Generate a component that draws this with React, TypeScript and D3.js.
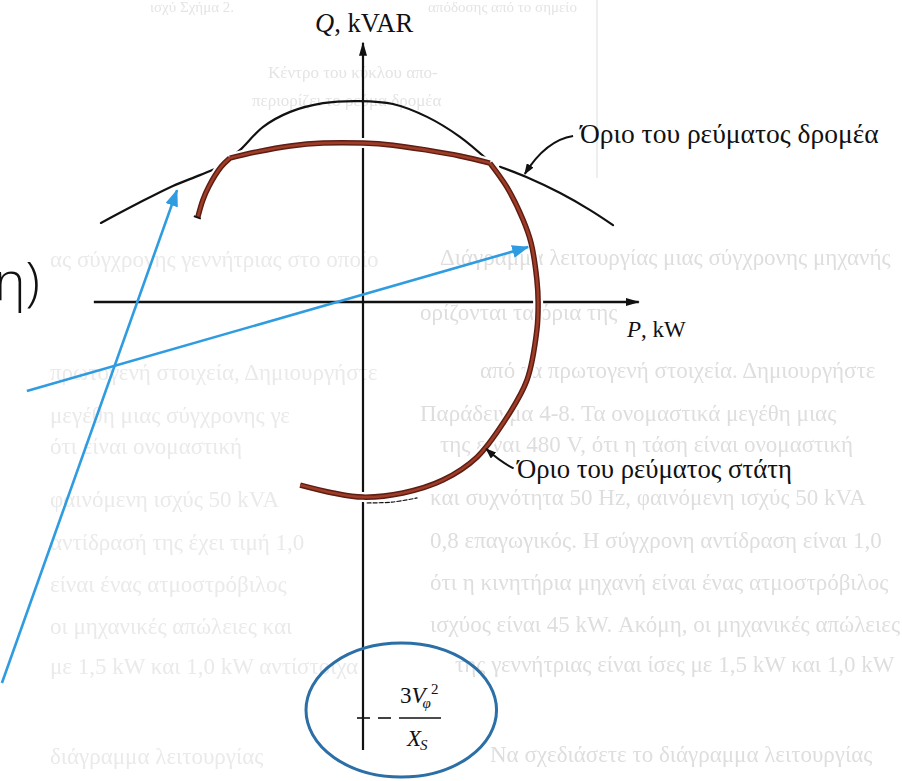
import React from "react";
import * as d3 from "d3";

type Pt = [number, number];

// Operating chart of a synchronous generator in per-unit P/Q coordinates.
// Q = -1 is the point -3Vφ²/Xs (centre of the rotor-current circle).
const rotorArcLeft: Pt[] = [
  [-0.63, 0.19], [-0.543, 0.236], [-0.457, 0.279], [-0.392, 0.305], [-0.337, 0.329], [-0.32, 0.344],
];
const rotorArcRight: Pt[] = [
  [0.329, 0.325], [0.394, 0.3], [0.474, 0.262], [0.546, 0.221], [0.601, 0.185],
];
const statorArcTop: Pt[] = [
  [-0.32, 0.346], [-0.296, 0.365], [-0.24, 0.421], [-0.175, 0.457], [-0.096, 0.478],
  [-0.007, 0.483], [0.072, 0.476], [0.154, 0.445], [0.233, 0.397], [0.3, 0.341],
];
const statorArcBottom: Pt[] = [[0.01, -0.483], [0.07, -0.481], [0.13, -0.471]];

// Capability boundary (highlighted)
const limitLeft: Pt[] = [
  [-0.397, 0.204], [-0.385, 0.245], [-0.37, 0.279], [-0.341, 0.325], [-0.32, 0.346],
];
const limitTop: Pt[] = [
  [-0.32, 0.346], [-0.255, 0.361], [-0.175, 0.375], [-0.096, 0.382], [0, 0.382],
  [0.072, 0.377], [0.154, 0.365], [0.233, 0.351], [0.305, 0.334],
];
const limitRight: Pt[] = [
  [0.305, 0.334], [0.346, 0.276], [0.385, 0.197], [0.404, 0.142], [0.418, 0.053],
  [0.421, 0], [0.418, -0.067], [0.394, -0.188], [0.337, -0.291], [0.274, -0.373],
  [0.192, -0.428], [0.096, -0.459], [0, -0.469], [-0.072, -0.459], [-0.151, -0.44],
];

const pAxisExtent: Pt = [-0.647, 0.663];
const qAxisExtent: Pt = [-1.077, 0.623];
const qTickValue = -1;

// Annotations
const annotationArrows: Pt[][] = [
  [[-0.868, -0.916], [-0.447, 0.269]],
  [[-0.808, -0.214], [0.397, 0.132]],
];
const ellipseCentre: Pt = [0.092, -0.981];
const ellipseRadii: Pt = [0.229, 0.161];
const rotorCallout: Pt[] = [[0.505, 0.399], [0.44, 0.389], [0.389, 0.308]];
const statorCallout: Pt[] = [[0.362, -0.4], [0.331, -0.385], [0.296, -0.353]];

// Faint page text printed behind the figure
const pageLines = [
  "Διάγραμμα λειτουργίας μιας σύγχρονης μηχανής",
  "ορίζονται τα όρια της",
  "από τα πρωτογενή στοιχεία. Δημιουργήστε",
  "Παράδειγμα 4-8. Τα ονομαστικά μεγέθη μιας",
  "της είναι 480 V, ότι η τάση είναι ονομαστική",
  "και συχνότητα 50 Hz, φαινόμενη ισχύς 50 kVA",
  "0,8 επαγωγικός. Η σύγχρονη αντίδραση είναι 1,0",
  "ότι η κινητήρια μηχανή είναι ένας ατμοστρόβιλος",
  "ισχύος είναι 45 kW. Ακόμη, οι μηχανικές απώλειες",
  "της γεννήτριας είναι ίσες με 1,5 kW και 1,0 kW",
  "Να σχεδιάσετε το διάγραμμα λειτουργίας",
];
const pageLineY = [265, 320, 378, 421, 452, 505, 548, 590, 632, 672, 762];
const pageLineX = [440, 420, 480, 420, 440, 430, 430, 430, 430, 455, 490];
const ghostLines = [
  "ας σύγχρονης γεννήτριας στο οποίο",
  "",
  "πρωτογενή στοιχεία, Δημιουργήστε",
  "μεγέθη μιας σύγχρονης γε",
  "ότι είναι ονομαστική",
  "φαινόμενη ισχύς 50 kVA",
  "αντίδρασή της έχει τιμή 1,0",
  "είναι ένας ατμοστρόβιλος",
  "οι μηχανικές απώλειες και",
  "με 1,5 kW και 1,0 kW αντίστοιχα",
  "διάγραμμα λειτουργίας",
];

const W = 902;
const H = 781;
const BLUE = "#2f9be0";
const ELLIPSE_BLUE = "#2b6fa6";
const RED_DARK = "#5c1d13";
const RED = "#9e3c28";
const SERIF = "'Liberation Serif', 'Times New Roman', 'DejaVu Serif', serif";

export default function App() {
  const x = d3.scaleLinear().domain([-1, 1]).range([363 - 416, 363 + 416]);
  const y = d3.scaleLinear().domain([-1, 1]).range([302 + 416, 302 - 416]);

  const smooth = d3
    .line<Pt>()
    .x((d) => x(d[0]))
    .y((d) => y(d[1]))
    .curve(d3.curveCatmullRom.alpha(0.5));
  const straight = d3
    .line<Pt>()
    .x((d) => x(d[0]))
    .y((d) => y(d[1]));

  const quad = (pts: Pt[]) => {
    const p = d3.path();
    p.moveTo(x(pts[0][0]), y(pts[0][1]));
    p.quadraticCurveTo(x(pts[1][0]), y(pts[1][1]), x(pts[2][0]), y(pts[2][1]));
    return p.toString();
  };

  const limitPath = [limitLeft, limitTop, limitRight].map((s) => smooth(s)).join("");
  const x0 = x(0);
  const y0 = y(0);
  const yT = y(qTickValue);

  return (
    <svg width={W} height={H} style={{ display: "block", position: "absolute", left: 0, top: 0, background: "#fff" }}>
      <defs>
        <marker id="blueHead" viewBox="0 0 17 13" refX="16" refY="6.5" markerWidth="17" markerHeight="13" markerUnits="userSpaceOnUse" orient="auto">
          <path d="M0,0L17,6.5L0,13Z" fill={BLUE} />
        </marker>
        <marker id="axisHead" viewBox="0 0 14 8" refX="13" refY="4" markerWidth="14" markerHeight="8" markerUnits="userSpaceOnUse" orient="auto">
          <path d="M0,0L14,4L0,8Z" fill="#111" />
        </marker>
        <marker id="calloutHead" viewBox="0 0 11 8" refX="10" refY="4" markerWidth="11" markerHeight="8" markerUnits="userSpaceOnUse" orient="auto">
          <path d="M0,0L11,4L0,8Z" fill="#111" />
        </marker>
        <filter id="soft" x="-5%" y="-20%" width="110%" height="140%">
          <feGaussianBlur stdDeviation="0.7" />
        </filter>
      </defs>

      {/* faint page text behind the figure */}
      <g filter="url(#soft)" fontFamily={SERIF} fontSize={23}>
        <g fill="#dedede">
          {pageLines.map((t, i) => (
            <text key={"r" + i} x={pageLineX[i]} y={pageLineY[i]}>
              {t}
            </text>
          ))}
        </g>
        <g fill="#eaeaea">
          {ghostLines.map((t, i) =>
            t ? (
              <text key={"g" + i} x={50} y={pageLineY[i] + 2}>
                {t}
              </text>
            ) : null
          )}
        </g>
        <g fill="#e4e4e4" fontSize={15}>
          <text x={150} y={12}>ισχύ   Σχήμα 2.</text>
          <text x={428} y={12}>απόδοσης από το σημείο</text>
        </g>
        <g fill="#e4e4e4" fontSize={17}>
          <text x={268} y={78}>Κέντρο του κύκλου απο-</text>
          <text x={252} y={106}>περιορίζει το ρεύμα δρομέα</text>
        </g>
        <line x1={597} y1={0} x2={597} y2={178} stroke="#e8e8e8" strokeWidth={1.5} />
      </g>

      {/* axes */}
      <line x1={x(pAxisExtent[0])} y1={y0} x2={x(pAxisExtent[1])} y2={y0} stroke="#111" strokeWidth={2.6} markerEnd="url(#axisHead)" />
      <line x1={x0} y1={y(qAxisExtent[0])} x2={x0} y2={y(qAxisExtent[1])} stroke="#111" strokeWidth={2.2} markerEnd="url(#axisHead)" />
      <line x1={x0 - 6} y1={yT} x2={x0 + 7} y2={yT} stroke="#111" strokeWidth={1.6} />

      {/* rotor- and stator-current circles */}
      <g fill="none" stroke="#111" strokeWidth={2.2} strokeLinecap="round">
        <path d={smooth(rotorArcLeft) ?? ""} />
        <path d={smooth(rotorArcRight) ?? ""} />
        <path d={smooth(statorArcTop) ?? ""} />
        <path d={smooth(statorArcBottom) ?? ""} strokeWidth={1.2} strokeDasharray="4 2" />
      </g>

      {/* highlighted capability limit */}
      <path d={limitPath} fill="none" stroke="#fff" strokeWidth={10} strokeLinejoin="round" strokeLinecap="butt" />
      <path d={limitPath} fill="none" stroke={RED_DARK} strokeWidth={5.5} strokeLinejoin="round" strokeLinecap="butt" />
      <path d={limitPath} fill="none" stroke={RED} strokeWidth={2.6} strokeLinejoin="round" strokeLinecap="butt" />
      <line
        x1={x(limitLeft[0][0]) - 4}
        y1={y(limitLeft[0][1]) - 1}
        x2={x(limitLeft[0][0]) + 3}
        y2={y(limitLeft[0][1]) + 1.5}
        stroke="#111"
        strokeWidth={2}
      />

      {/* axis titles */}
      <text x={315} y={32} fontFamily={SERIF} fontSize={26.5} fill="#111">
        <tspan fontStyle="italic">Q</tspan>, kVAR
      </text>
      <text x={627} y={337} fontFamily={SERIF} fontSize={23} fill="#111">
        <tspan fontStyle="italic">P</tspan>, kW
      </text>

      {/* curve labels */}
      <path d={quad(rotorCallout)} fill="none" stroke="#111" strokeWidth={2} markerEnd="url(#calloutHead)" />
      <text x={580} y={143} fontFamily={SERIF} fontSize={27.5} fill="#111">Όριο του ρεύματος δρομέα</text>
      <path d={quad(statorCallout)} fill="none" stroke="#111" strokeWidth={2} markerEnd="url(#calloutHead)" />
      <text x={517} y={478} fontFamily={SERIF} fontSize={26.7} fill="#111">Όριο του ρεύματος στάτη</text>

      {/* -3Vφ²/Xs */}
      <g fontFamily={SERIF} fill="#111">
        <line x1={x0 + 15} y1={yT} x2={x0 + 28} y2={yT} stroke="#111" strokeWidth={1.6} />
        <line x1={x0 + 36} y1={yT} x2={x0 + 78} y2={yT} stroke="#111" strokeWidth={1.4} />
        <text x={x0 + 37} y={yT - 15} fontSize={23}>
          3<tspan fontStyle="italic">V</tspan>
          <tspan fontSize={15} fontStyle="italic" dx={-3} dy={5}>φ</tspan>
          <tspan fontSize={15} dx={0} dy={-14}>2</tspan>
        </text>
        <text x={x0 + 44} y={yT + 28} fontSize={23} fontStyle="italic">
          X<tspan fontSize={15} dx={-1} dy={4}>S</tspan>
        </text>
      </g>

      {/* overlay annotations */}
      <g stroke={BLUE} strokeWidth={2.6} fill="none">
        {annotationArrows.map((a, i) => (
          <path key={i} d={straight(a) ?? ""} markerEnd="url(#blueHead)" />
        ))}
      </g>
      <ellipse
        cx={x(ellipseCentre[0])}
        cy={y(ellipseCentre[1])}
        rx={x(ellipseRadii[0]) - x(0)}
        ry={y(0) - y(ellipseRadii[1])}
        fill="none"
        stroke={ELLIPSE_BLUE}
        strokeWidth={3}
      />
      <text x={40} y={300} textAnchor="end" fontFamily="'Open Sans', 'Noto Sans', sans-serif" fontWeight={300} fontSize={53} fill="#111">
        η)
      </text>
    </svg>
  );
}
